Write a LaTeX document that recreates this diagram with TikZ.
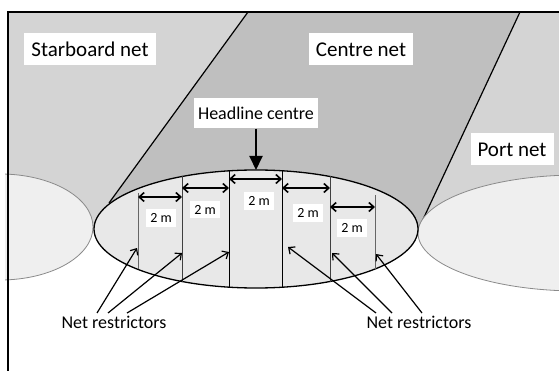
\documentclass[tikz,border=0pt]{standalone}
\usepackage{fontspec}
\setmainfont{Carlito}
\usetikzlibrary{arrows.meta}
\definecolor{sidenet}{HTML}{D4D4D4}
\definecolor{centrenet}{HTML}{BFBFBF}
\definecolor{mouth}{HTML}{E8E8E8}
\definecolor{lobe}{HTML}{EFEFEF}
\definecolor{lobeedge}{HTML}{8A8A8A}
\begin{document}
\begin{tikzpicture}[x=1pt,y=-1pt,
    netname/.style={fill=white,inner xsep=7pt,minimum height=32pt,font=\fontsize{21}{25}\selectfont},
    headname/.style={fill=white,inner xsep=4.5pt,minimum height=30pt,font=\fontsize{18}{21}\selectfont},
    restrname/.style={inner sep=0pt,font=\fontsize{18}{21}\selectfont},
    widthlabel/.style={fill=white,inner sep=4pt,font=\fontsize{14}{16}\selectfont},
    gap/.style={{Straight Barb[length=5pt,width=9pt]}-{Straight Barb[length=5pt,width=9pt]},line width=1.6pt},
    pointer/.style={-{Straight Barb[length=5pt,width=9pt]},line width=1.2pt}]
\useasboundingbox (0,0) rectangle (559,371);
% panels of the three nets
\fill[sidenet] (8,12) -- (248,12) -- (109,203) -- (94,227) -- (8,227) -- cycle; %starboard
\fill[centrenet] (248,12) -- (520,12) -- (419,228) -- (94,229) -- (109,203) -- cycle; %centre
\fill[sidenet] (520,12) -- (559,12) -- (559,233) -- (418,233) -- (419,228) -- cycle; %port
\draw[line width=1.2pt] (248,12) -- (109,203);
\draw[line width=1.2pt] (520,12) -- (419,228);
% side mouths
\begin{scope}
  \clip (5,0) rectangle (600,371);
  \filldraw[fill=lobe, draw=lobeedge, line width=0.8pt] (0,227) ellipse [x radius=93, y radius=53];
\end{scope}
\filldraw[fill=lobe, draw=lobeedge, line width=0.8pt] (578,233) ellipse [x radius=160, y radius=58];
% centre mouth and restrictors
\filldraw[fill=mouth, line width=1.3pt] (256,229) ellipse [x radius=162, y radius=59];
\foreach \x/\ya/\yb/\c in {138/193/269.4/black!60, 182/176.5/281.5/black!75, 229/170.8/287.2/black,
                           282/170.8/287.2/black, 330/176.5/281.5/black!75, 375/195/269/black!60}
  \draw[\c, line width=1pt] (\x,\ya) -- (\x,\yb);
\draw[gap] (138,197) -- (182,197);
\draw[gap] (182,188) -- (229,188);
\draw[gap] (229,179) -- (282,179);
\draw[gap] (282,188) -- (330,188);
\draw[gap] (330,207) -- (375,207);
\node[widthlabel] (w1) at (161,218) {2 m};
\node[widthlabel] (w2) at (205,209.5) {2 m};
\node[widthlabel] (w3) at (259,201) {2 m};
\node[widthlabel] (w4) at (308,213) {2 m};
\node[widthlabel] (w5) at (352,228) {2 m};
% labels
\node[netname] (star) at (90,49.5) {Starboard net};
\node[netname] (centre) at (361,49.5) {Centre net};
\node[netname] (port) at (512,149.5) {Port net};
\node[headname] (head) at (256,113.5) {Headline centre};
\coordinate (htop) at (256,170);
\draw[line width=2pt, -{Triangle[length=14pt,width=13pt]}] (head.south) -- (htop);
\node[restrname] (lnr) at (114,322) {Net restrictors};
\node[restrname] (rnr) at (419,322) {Net restrictors};
\coordinate (s1) at (97,313);  \coordinate (t1) at (137,248);
\coordinate (s2) at (108,313); \coordinate (t2) at (182,253);
\coordinate (s3) at (127,313); \coordinate (t3) at (229,252);
\coordinate (s4) at (376,313); \coordinate (t4) at (288,247);
\coordinate (s5) at (392,313); \coordinate (t5) at (332,253);
\coordinate (s6) at (422,313); \coordinate (t6) at (376,254);
\foreach \i in {1,...,6}
  \draw[pointer] (s\i) -- (t\i);
% frame
\draw[line width=1.4pt] (8,371) -- (8,12) -- (559,12);
\end{tikzpicture}
\end{document}
